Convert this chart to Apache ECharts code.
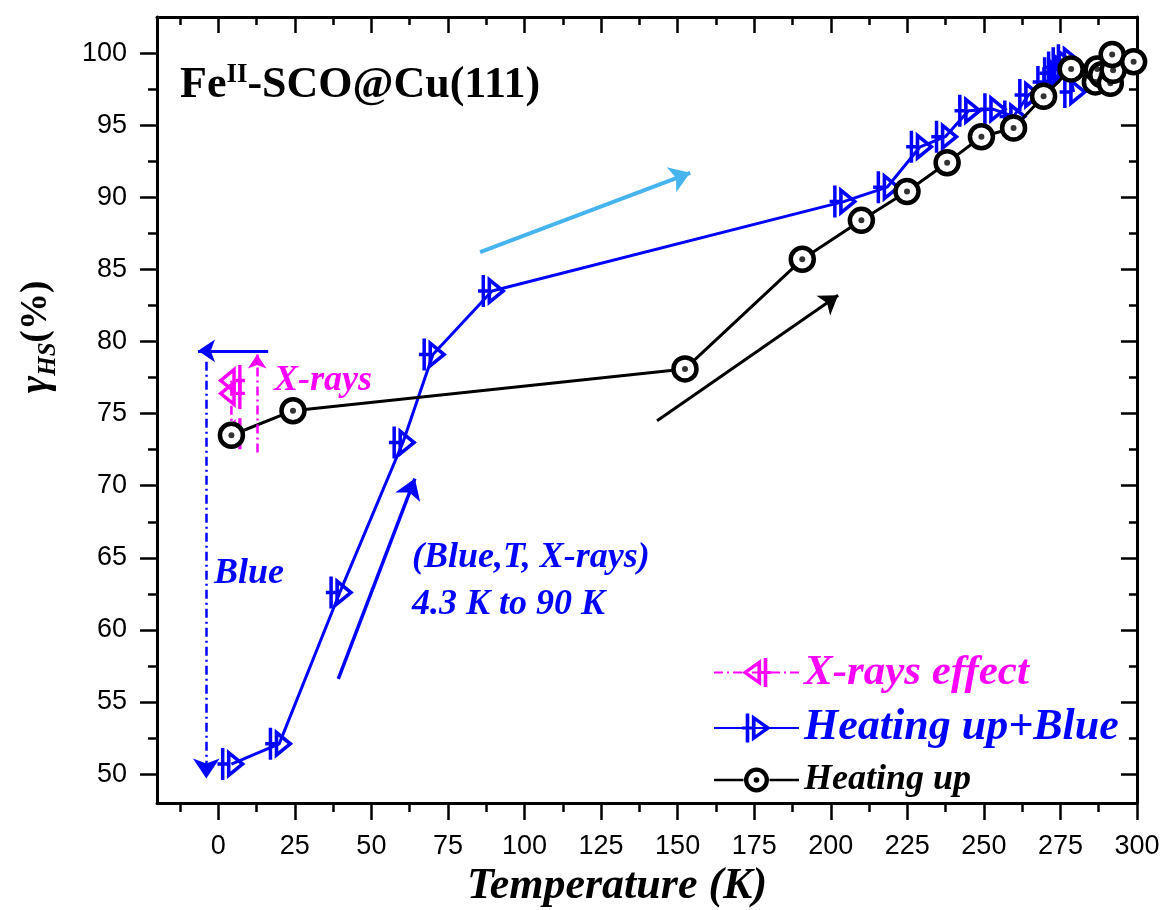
<!DOCTYPE html>
<html>
<head>
<meta charset="utf-8">
<script src="https://cdn.jsdelivr.net/npm/echarts@6/dist/echarts.min.js"></script>
<style>
html,body{margin:0;padding:0;background:#fff;}
#chart{width:1170px;height:910px;}
</style>
</head>
<body>
<div id="chart"></div>
<script>
// ---------- data ----------
const xMajorTicks = [0, 25, 50, 75, 100, 125, 150, 175, 200, 225, 250, 275, 300];
const xMinorTicks = [-12.5, 12.5, 37.5, 62.5, 87.5, 112.5, 137.5, 162.5, 187.5, 212.5, 237.5, 262.5, 287.5];
const yMajorTicks = [50, 55, 60, 65, 70, 75, 80, 85, 90, 95, 100];
const yMinorTicks = [52.5, 57.5, 62.5, 67.5, 72.5, 77.5, 82.5, 87.5, 92.5, 97.5];

const xrayT = [4.3, 4.3, 4.3];
const xrayY = [73.6, 76.4, 77.3];

const blueT = [4.3, 19.9, 39.7, 60.3, 70.1, 89.4, 204.2, 218.4, 229.2, 237.4, 245.0, 253.2, 259.7, 264.6, 270.5, 272.7, 274.0, 275.5, 277.2, 279.3];
const blueY = [50.7, 52.1, 62.6, 73.0, 79.1, 83.5, 89.7, 90.7, 93.5, 94.2, 96.0, 96.1, 95.6, 97.1, 98.0, 98.6, 99.0, 99.3, 99.5, 97.3];

const heatT = [4.3, 24.4, 152.4, 190.7, 210.0, 224.9, 238.0, 249.2, 259.7, 269.5, 278.5, 286.4, 287.0, 288.5, 291.3, 292.2, 291.9, 298.9];
const heatY = [73.5, 75.2, 78.1, 85.7, 88.4, 90.4, 92.4, 94.2, 94.8, 97.0, 98.9, 98.0, 98.9, 98.5, 97.9, 98.8, 99.9, 99.4];

// annotation arrows [x1, y1, x2, y2]
const arrowBlueUp = [39.2, 56.6, 64.2, 70.5];
const arrowLightBlue = [85.5, 86.2, 154.1, 91.7];
const arrowBlack = [143.3, 74.5, 202.4, 83.2];
const arrowBlueDown = [-3.8, 78.6, -3.9, 49.7];
const arrowBlueLeft = [16.3, 79.35, -6.6, 79.35];
const arrowXray = [12.7, 72.3, 12.7, 79.1];

// ---------- helpers ----------
const zip = (a, b) => a.map((v, i) => [v, b[i]]);
const SERIF = "'Liberation Serif','Times New Roman',serif";
const SANS = "'Liberation Sans',Arial,sans-serif";
const BLUE = '#0000ff', MAG = '#ff00ff', LBLUE = '#46b4ee';

const symRight = 'path://M3.5,0 L7,0 L7,32 L3.5,32 Z M0,14.25 L10,14.25 L10,17.75 L0,17.75 Z M9.5,1 L28,16 L9.5,31 Z M13.1,8.55 L13.1,23.45 L22.3,16 Z';
const symLeft = 'path://M21,0 L24.5,0 L24.5,32 L21,32 Z M18,14.25 L28,14.25 L28,17.75 L18,17.75 Z M18.5,1 L0,16 L18.5,31 Z M14.9,8.55 L14.9,23.45 L5.7,16 Z';
const ringLegendIcon = 'path://M0,13.75 L29.5,13.75 L29.5,16.25 L0,16.25 Z M55.5,13.75 L85,13.75 L85,16.25 L55.5,16.25 Z ' +
  'M42.5,2.5 A12.5,12.5 0 1,1 42.5,27.5 A12.5,12.5 0 1,1 42.5,2.5 Z ' +
  'M42.5,6.8 A8.2,8.2 0 1,0 42.5,23.2 A8.2,8.2 0 1,0 42.5,6.8 Z ' +
  'M42.5,12.2 A2.8,2.8 0 1,1 42.5,17.8 A2.8,2.8 0 1,1 42.5,12.2 Z';

function arrowLine(a, color, width, type, size) {
  return [
    { coord: [a[0], a[1]], symbol: 'none', lineStyle: { color: color, width: width, type: type } },
    { coord: [a[2], a[3]], symbol: 'arrow', symbolSize: size }
  ];
}

const X0 = -20, X1 = 300, Y0 = 48, Y1 = 102.5;
function xAx(pos, ticks, len, inside, showLine, labels) {
  return {
    type: 'value', position: pos, min: X0, max: X1,
    axisLine: { show: showLine, onZero: false, lineStyle: { color: '#000', width: 3 } },
    axisTick: { show: true, inside: inside, length: len, customValues: ticks, lineStyle: { color: '#000', width: 2.5 } },
    axisLabel: labels ? { show: true, customValues: ticks, margin: 30, color: '#000', fontSize: 27, fontFamily: SANS } : { show: false },
    splitLine: { show: false }
  };
}
function yAx(pos, ticks, len, inside, showLine, labels) {
  return {
    type: 'value', position: pos, min: Y0, max: Y1,
    axisLine: { show: showLine, onZero: false, lineStyle: { color: '#000', width: 3 } },
    axisTick: { show: true, inside: inside, length: len, customValues: ticks, lineStyle: { color: '#000', width: 2.5 } },
    axisLabel: labels ? { show: true, customValues: ticks, margin: 30, color: '#000', fontSize: 27, fontFamily: SANS } : { show: false },
    splitLine: { show: false }
  };
}

const xMain = xAx('bottom', xMajorTicks, 17, false, true, true);
xMain.name = 'Temperature (K)';
xMain.nameLocation = 'middle';
xMain.nameGap = 57;
xMain.nameTextStyle = { fontFamily: SERIF, fontSize: 44, fontWeight: 'bold', fontStyle: 'italic', color: '#000', padding: [0, 60, 0, 0] };

const yMain = yAx('left', yMajorTicks, 17, false, true, true);
yMain.name = '{g|γ}{s|HS}{p|(%)}';
yMain.nameLocation = 'middle';
yMain.nameRotate = 90;
yMain.nameGap = 100;
yMain.nameTextStyle = {
  padding: [0, 0, 0, 146],
  rich: {
    g: { fontFamily: SERIF, fontSize: 42, fontStyle: 'italic', fontWeight: 'bold', color: '#000', verticalAlign: 'middle' },
    s: { fontFamily: SERIF, fontSize: 25, fontStyle: 'italic', fontWeight: 'bold', color: '#000', verticalAlign: 'bottom', padding: [0, 0, -4, 0] },
    p: { fontFamily: SERIF, fontSize: 37, fontWeight: 'bold', color: '#000', verticalAlign: 'middle' }
  }
};

const option = {
  backgroundColor: '#fff',
  animation: false,
  grid: { left: 157, right: 33, top: 17, bottom: 107, containLabel: false, outerBoundsMode: 'none' },
  title: {
    text: '{a|Fe}{s|II}{a|-SCO@Cu(111)}',
    left: 175, top: 57,
    textStyle: {
      rich: {
        a: { fontFamily: SERIF, fontSize: 44, fontWeight: 'bold', color: '#000', lineHeight: 48 },
        s: { fontFamily: SERIF, fontSize: 27, fontWeight: 'bold', color: '#000', verticalAlign: 'top', lineHeight: 48 }
      }
    }
  },
  xAxis: [
    xMain,
    xAx('bottom', xMinorTicks, 9, false, false, false),
    xAx('top', xMajorTicks, 16, true, true, false),
    xAx('top', xMinorTicks, 8, true, false, false)
  ],
  yAxis: [
    yMain,
    yAx('left', yMinorTicks, 9, false, false, false),
    yAx('right', yMajorTicks, 16, true, true, false),
    yAx('right', yMinorTicks, 8, true, false, false)
  ],
  legend: {
    orient: 'vertical',
    left: 708, top: 646,
    itemWidth: 85, itemHeight: 36, itemGap: 12,
    data: [
      { name: 'X-rays effect', textStyle: { color: MAG, fontFamily: SERIF, fontSize: 43, fontWeight: 'bold', fontStyle: 'italic' } },
      { name: 'Heating up+Blue', textStyle: { color: BLUE, fontFamily: SERIF, fontSize: 44, fontWeight: 'bold', fontStyle: 'italic' } },
      { name: 'Heating up', icon: ringLegendIcon, itemStyle: { color: '#000', borderWidth: 0 },
        textStyle: { color: '#000', fontFamily: SERIF, fontSize: 36, fontWeight: 'bold', fontStyle: 'italic' } }
    ]
  },
  series: [
    {
      name: 'Heating up+Blue', type: 'line', z: 2,
      data: zip(blueT, blueY),
      symbol: symRight, symbolSize: [28, 32],
      itemStyle: { color: BLUE },
      lineStyle: { color: BLUE, width: 3 },
      markLine: {
        silent: true, animation: false,
        label: { show: false },
        data: [
          arrowLine(arrowBlueUp, BLUE, 3.5, 'solid', 20),
          arrowLine(arrowLightBlue, LBLUE, 4, 'solid', 20),
          arrowLine(arrowBlack, '#000', 3, 'solid', 18),
          arrowLine(arrowBlueDown, BLUE, 2.5, [9, 4, 2, 4], 20),
          arrowLine(arrowBlueLeft, BLUE, 3, 'solid', 17),
          arrowLine(arrowXray, MAG, 2.5, [9, 4, 2, 4], 14)
        ]
      }
    },
    {
      name: 'X-rays effect', type: 'line', z: 3,
      data: zip(xrayT, xrayY),
      symbol: symLeft, symbolSize: [27, 31],
      itemStyle: { color: MAG },
      lineStyle: { color: MAG, width: 2.5, type: [9, 4, 2, 4] }
    },
    {
      name: 'Heating up', type: 'line', z: 4,
      data: zip(heatT, heatY),
      symbol: 'circle', symbolSize: 23,
      itemStyle: { color: '#fff', borderColor: '#000', borderWidth: 4.5 },
      lineStyle: { color: '#000', width: 3 }
    },
    {
      name: 'Heating up dots', type: 'scatter', z: 5, silent: true,
      data: zip(heatT, heatY),
      symbol: 'circle', symbolSize: 6,
      itemStyle: { color: '#000' }
    }
  ],
  graphic: [
    { type: 'text', style: { x: 274, y: 381, verticalAlign: 'middle', text: 'X-rays', fill: MAG, font: "italic bold 36px " + SERIF } },
    { type: 'text', style: { x: 214, y: 574, verticalAlign: 'middle', text: 'Blue', fill: BLUE, font: "italic bold 36px " + SERIF } },
    { type: 'text', style: { x: 412, y: 558, verticalAlign: 'middle', text: '(Blue,T, X-rays)', fill: BLUE, font: "italic bold 36px " + SERIF } },
    { type: 'text', style: { x: 412, y: 605, verticalAlign: 'middle', text: '4.3 K to 90 K', fill: BLUE, font: "italic bold 36px " + SERIF } }
  ]
};

const chart = echarts.init(document.getElementById('chart'), null, { renderer: 'canvas' });
chart.setOption(option);
</script>
</body>
</html>
